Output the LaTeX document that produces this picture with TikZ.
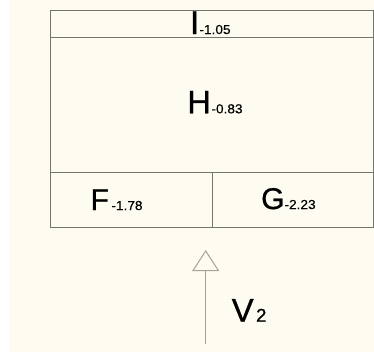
\documentclass[tikz,border=0pt]{standalone}
\usepackage{fontspec}
\setmainfont{Liberation Sans}
\newfontfamily\mainf[FakeBold=0.8]{Liberation Sans}
\newfontfamily\subf[FakeStretch=1.05,FakeBold=0.4]{Liberation Sans}
\usetikzlibrary{arrows.meta}
\definecolor{bgc}{RGB}{254,251,240}
\definecolor{linec}{RGB}{118,117,108}
\definecolor{arrc}{RGB}{165,162,153}
\newcommand{\mainsz}[1]{\fontsize{#1}{#1}\selectfont}
\begin{document}
\begin{tikzpicture}[x=1pt,y=-1pt,
  cell/.style={draw=linec,line width=1pt},
  lbl/.style={anchor=base west,inner sep=0pt,outer sep=0pt,text=black},
  vecline/.style={draw=arrc,line width=1pt,-{Triangle[open,width=27pt,length=21pt,fill=bgc]}}]
\useasboundingbox (0,0) rectangle (374,354);
\fill[bgc] (9,0) rectangle (374,352);
% cells
\draw[cell] (50,10) rectangle (373,37.3);
\draw[cell] (50,37.3) rectangle (373,172);
\draw[cell] (50,172) rectangle (212,227);
\draw[cell] (212,172) rectangle (373,227);
% labels
\node[lbl] (I) at (190,34) {{\mainf\mainsz{33}I}\kern0.3pt{\subf\mainsz{13}-1.05}};
\node[lbl] (H) at (187.4,113.3) {{\mainf\mainsz{32.5}H}\kern0.6pt{\subf\mainsz{13}-0.83}};
\node[lbl] (F) at (90.6,210) {{\mainf\mainsz{30}F}\kern2.5pt{\subf\mainsz{13}-1.78}};
\node[lbl] (G) at (261.2,209) {{\mainf\mainsz{30}G}{\subf\mainsz{13}-2.23}};
% vector
\coordinate (vs) at (205.7,344);
\coordinate (ve) at (205.7,250);
\draw[vecline] (vs) -- (ve);
\node[lbl] (V) at (231.7,321.7) {{\mainf\mainsz{33}V}\kern2.4pt{\mainf\mainsz{18.5}2}};
\end{tikzpicture}
\end{document}
